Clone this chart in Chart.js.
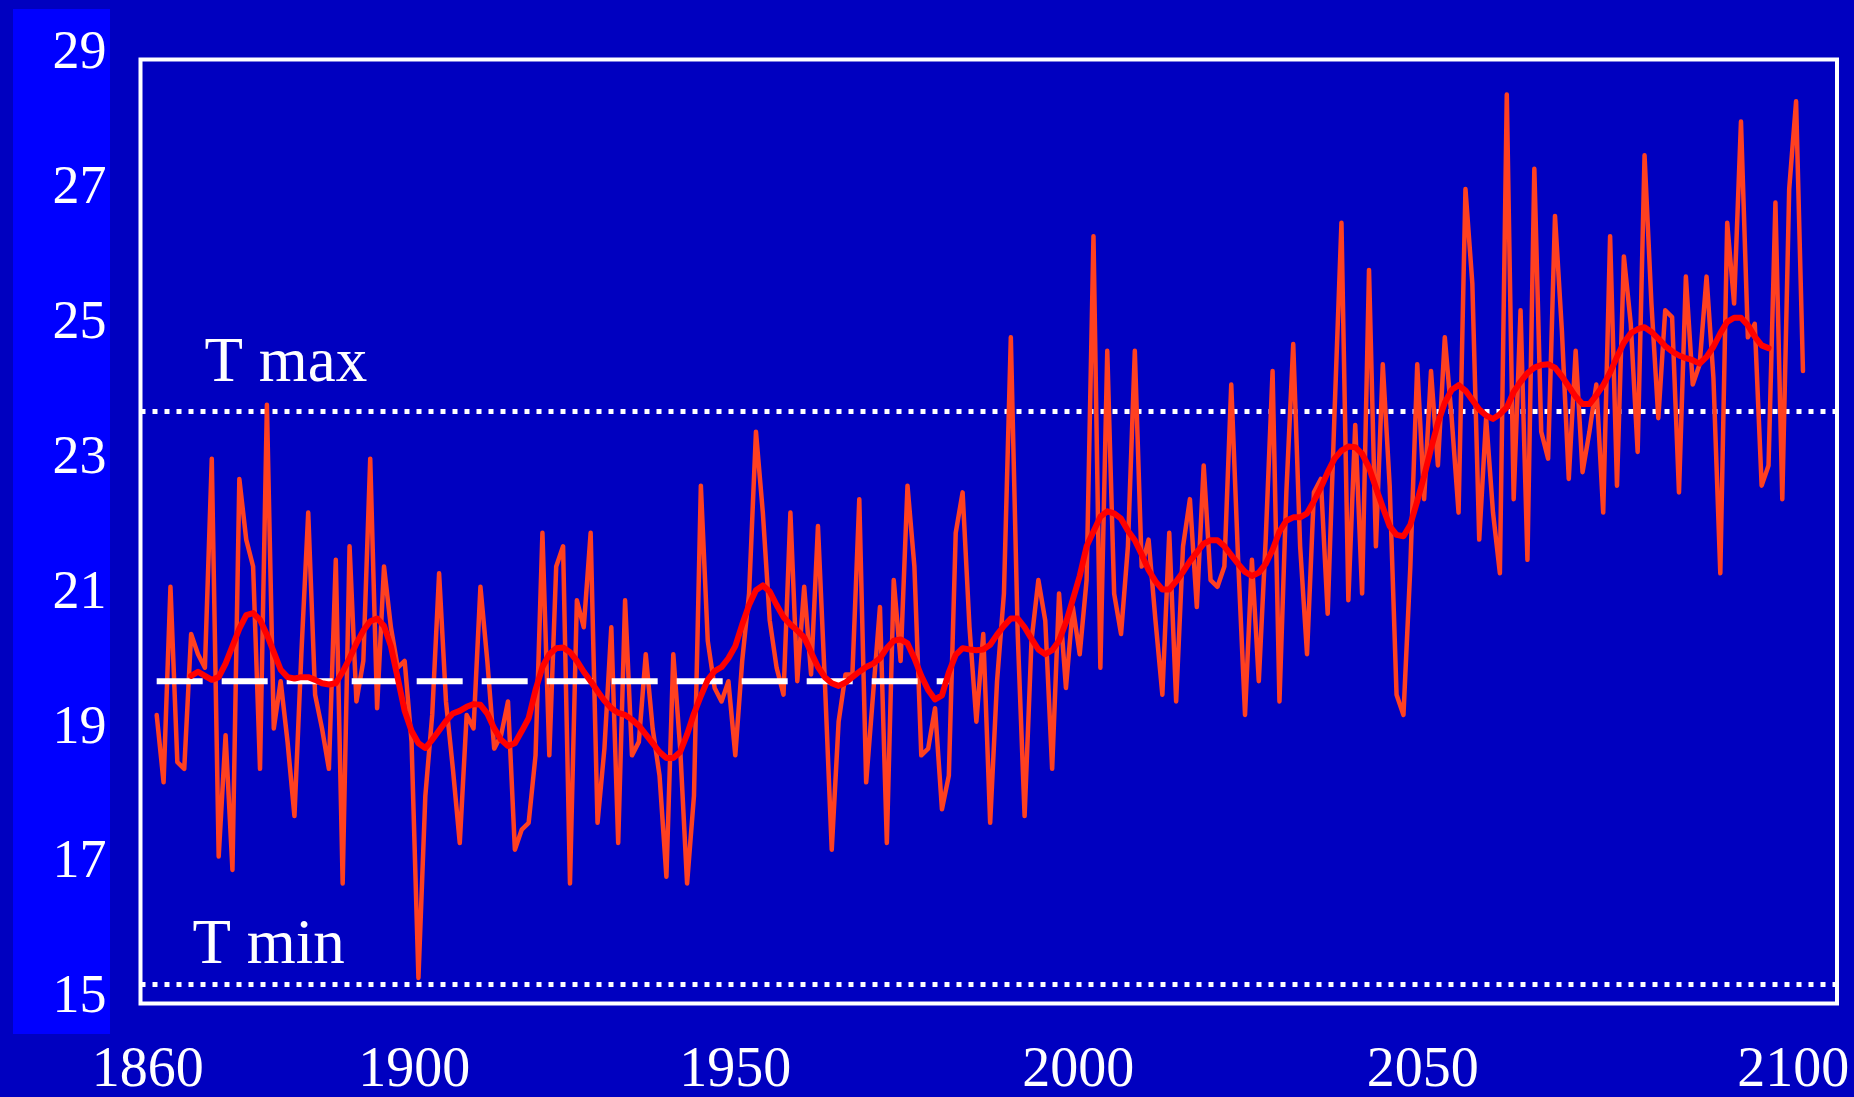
<!DOCTYPE html>
<html>
<head>
<meta charset="utf-8">
<title>Temperature 1861-2100</title>
<script src="https://cdn.jsdelivr.net/npm/chart.js@4.4.1/dist/chart.umd.min.js"></script>
<style>
  html, body { margin: 0; padding: 0; background: #0000c0; }
  #wrap { width: 1854px; height: 1097px; }
</style>
</head>
<body>
<div id="wrap"><canvas id="chart" width="1854" height="1097"></canvas></div>
<script>
// yearly values, one per year starting at firstYear
const firstYear = 1861;
const annual = [
  19.2, 18.2, 21.1, 18.5, 18.4, 20.4, 20.1, 19.9, 23.0, 17.1,
  18.9, 16.9, 22.7, 21.8, 21.4, 18.4, 23.8, 19.0, 19.7, 18.8,
  17.7, 20.1, 22.2, 19.5, 19.0, 18.4, 21.5, 16.7, 21.7, 19.4,
  20.0, 23.0, 19.3, 21.4, 20.5, 19.9, 20.0, 18.8, 15.3, 18.0,
  19.2, 21.3, 19.4, 18.4, 17.3, 19.2, 19.0, 21.1, 20.0, 18.7,
  18.9, 19.4, 17.2, 17.5, 17.6, 18.6, 21.9, 18.6, 21.4, 21.7,
  16.7, 20.9, 20.5, 21.9, 17.6, 18.7, 20.5, 17.3, 20.9, 18.6,
  18.8, 20.1, 19.0, 18.3, 16.8, 20.1, 18.7, 16.7, 18.0, 22.6,
  20.3, 19.6, 19.4, 19.7, 18.6, 20.0, 21.0, 23.4, 22.2, 20.6,
  19.9, 19.5, 22.2, 19.7, 21.1, 19.8, 22.0, 19.7, 17.2, 19.1,
  19.8, 19.8, 22.4, 18.2, 19.5, 20.8, 17.3, 21.2, 20.0, 22.6,
  21.4, 18.6, 18.7, 19.3, 17.8, 18.3, 21.9, 22.5, 20.5, 19.1,
  20.4, 17.6, 19.7, 21.0, 24.8, 20.4, 17.7, 20.3, 21.2, 20.6,
  18.4, 21.0, 19.6, 20.8, 20.1, 21.2, 26.3, 19.9, 24.6, 21.0,
  20.4, 21.7, 24.6, 21.4, 21.8, 20.6, 19.5, 21.9, 19.4, 21.7,
  22.4, 20.8, 22.9, 21.2, 21.1, 21.4, 24.1, 21.5, 19.2, 21.5,
  19.7, 21.8, 24.3, 19.4, 22.5, 24.7, 21.7, 20.1, 22.5, 22.7,
  20.7, 23.7, 26.5, 20.9, 23.5, 21.0, 25.8, 21.7, 24.4, 22.6,
  19.5, 19.2, 21.4, 24.4, 22.4, 24.3, 22.9, 24.8, 23.6, 22.2,
  27.0, 25.6, 21.8, 23.6, 22.2, 21.3, 28.4, 22.4, 25.2, 21.5,
  27.3, 23.4, 23.0, 26.6, 24.9, 22.7, 24.6, 22.8, 23.4, 24.1,
  22.2, 26.3, 22.6, 26.0, 25.0, 23.1, 27.5, 25.3, 23.6, 25.2,
  25.1, 22.5, 25.7, 24.1, 24.4, 25.7, 24.2, 21.3, 26.5, 25.3,
  28.0, 24.8, 25.0, 22.6, 22.9, 26.8, 22.4, 27.0, 28.3, 24.3
];

// smoothed curve, one per year starting at smoothStart
const smoothStart = 1866;
const smoothed = [
  19.78, 19.84, 19.78, 19.72, 19.76, 19.96, 20.22, 20.48, 20.68, 20.71,
  20.61, 20.39, 20.13, 19.87, 19.76, 19.74, 19.76, 19.76, 19.72, 19.67,
  19.65, 19.67, 19.84, 20.04, 20.26, 20.45, 20.59, 20.63, 20.52, 20.22,
  19.74, 19.26, 18.96, 18.78, 18.71, 18.83, 18.97, 19.11, 19.22, 19.26,
  19.32, 19.36, 19.35, 19.22, 19.00, 18.83, 18.74, 18.78, 18.96, 19.15,
  19.57, 19.91, 20.10, 20.19, 20.20, 20.13, 20.00, 19.84, 19.70, 19.55,
  19.41, 19.30, 19.23, 19.20, 19.13, 19.04, 18.91, 18.78, 18.65, 18.56,
  18.56, 18.65, 18.91, 19.22, 19.48, 19.72, 19.85, 19.91, 20.04, 20.22,
  20.54, 20.83, 21.05, 21.12, 21.03, 20.83, 20.65, 20.54, 20.45, 20.35,
  20.13, 19.91, 19.76, 19.67, 19.63, 19.68, 19.76, 19.84, 19.91, 19.96,
  20.04, 20.19, 20.30, 20.32, 20.26, 20.04, 19.78, 19.57, 19.43, 19.49,
  19.83, 20.09, 20.19, 20.17, 20.16, 20.17, 20.24, 20.39, 20.52, 20.63,
  20.63, 20.50, 20.33, 20.17, 20.10, 20.16, 20.30, 20.57, 20.91, 21.26,
  21.70, 21.92, 22.14, 22.22, 22.19, 22.11, 21.93, 21.79, 21.58, 21.35,
  21.18, 21.06, 21.06, 21.18, 21.32, 21.48, 21.61, 21.74, 21.79, 21.79,
  21.70, 21.57, 21.44, 21.32, 21.26, 21.31, 21.44, 21.65, 21.92, 22.08,
  22.13, 22.13, 22.19, 22.37, 22.57, 22.80, 23.00, 23.12, 23.18, 23.17,
  23.07, 22.87, 22.57, 22.28, 22.00, 21.87, 21.85, 22.02, 22.37, 22.74,
  23.15, 23.53, 23.83, 24.02, 24.09, 24.01, 23.87, 23.73, 23.64, 23.59,
  23.66, 23.76, 23.99, 24.14, 24.27, 24.35, 24.39, 24.40, 24.35, 24.22,
  24.07, 23.92, 23.81, 23.81, 23.94, 24.09, 24.28, 24.51, 24.72, 24.86,
  24.92, 24.95, 24.88, 24.78, 24.67, 24.59, 24.53, 24.49, 24.46, 24.41,
  24.51, 24.66, 24.86, 25.03, 25.09, 25.09, 24.98, 24.81, 24.68, 24.64
];

// mean of the reference period, drawn as the white dashed line
const baselineYears = [1861, 1976];
const baselineTemp = 19.7;

const tMax = 23.7;
const tMin = 15.2;

const yTicks = [15, 17, 19, 21, 23, 25, 27, 29];
const xTickLabels = ['1860', '1900', '1950', '2000', '2050', '2100'];

const xMin = 1858.65, xMax = 2104.94;
const serif = '"Liberation Serif", "Times New Roman", serif';

const annualPts = annual.map((v, i) => ({ x: firstYear + i, y: v }));
const smoothPts = smoothed.map((v, i) => ({ x: smoothStart + i, y: v }));
const basePts = baselineYears.map(yr => ({ x: yr, y: baselineTemp }));
const line = v => [{ x: xMin, y: v }, { x: xMax, y: v }];

const decor = {
  id: 'decor',
  beforeDraw(chart) {
    const { ctx, width, height } = chart;
    ctx.save();
    ctx.fillStyle = '#0000c0';
    ctx.fillRect(0, 0, width, height);
    ctx.fillStyle = '#0000ff'; // strip behind the y labels
    ctx.fillRect(13, 9, 97, 1025);
    ctx.restore();
  },
  afterDatasetsDraw(chart) {
    const { ctx, chartArea: a, scales: { y } } = chart;
    ctx.save();
    ctx.fillStyle = '#ffffff';
    ctx.font = '63px ' + serif;
    ctx.textBaseline = 'alphabetic';
    ctx.fillText('T max', a.left + 64, y.getPixelForValue(tMax) - 30);
    ctx.fillText('T min', a.left + 52, y.getPixelForValue(tMin) - 22);
    ctx.strokeStyle = '#ffffff';
    ctx.lineWidth = 4;
    ctx.strokeRect(a.left, a.top, a.right - a.left, a.bottom - a.top);
    ctx.restore();
  }
};

new Chart(document.getElementById('chart'), {
  type: 'line',
  data: {
    datasets: [
      {
        label: 'Smoothed',
        data: smoothPts,
        borderColor: '#ff0000',
        borderWidth: 6,
        pointRadius: 0,
        borderJoinStyle: 'round',
        borderCapStyle: 'round'
      },
      {
        label: 'Reference mean',
        data: basePts,
        borderColor: '#ffffff',
        borderWidth: 6,
        borderDash: [46, 19],
        pointRadius: 0
      },
      {
        label: 'Annual',
        data: annualPts,
        borderColor: '#ff4020',
        borderWidth: 4.5,
        pointRadius: 0,
        borderJoinStyle: 'round',
        borderCapStyle: 'round'
      },
      {
        label: 'T max',
        data: line(tMax),
        borderColor: '#ffffff',
        borderWidth: 5,
        borderDash: [5, 7],
        pointRadius: 0
      },
      {
        label: 'T min',
        data: line(tMin),
        borderColor: '#ffffff',
        borderWidth: 5,
        borderDash: [5, 7],
        pointRadius: 0
      }
    ]
  },
  options: {
    responsive: false,
    animation: false,
    layout: { padding: { top: 59.5, right: 17, left: 0, bottom: 0 } },
    plugins: {
      legend: { display: false },
      tooltip: { enabled: false }
    },
    scales: {
      x: {
        type: 'linear',
        min: xMin,
        max: xMax,
        grid: { display: false, drawTicks: false },
        border: { display: false },
        // the original's year labels sit a little off the yearly grid
        afterBuildTicks: s => {
          s.ticks = [1859.7, 1898.4, 1945.0, 1994.8, 2044.8, 2098.6].map(v => ({ value: v }));
        },
        afterFit: s => {
          s.height = 93.5;
          s.paddingLeft = 0;
          s.paddingRight = 0;
        },
        ticks: {
          autoSkip: false,
          maxRotation: 0,
          padding: 34,
          color: '#ffffff',
          font: { family: serif, size: 56 },
          callback: (v, i) => xTickLabels[i]
        }
      },
      y: {
        type: 'linear',
        min: 14.92,
        max: 28.92,
        grid: { display: false, drawTicks: false },
        border: { display: false },
        afterBuildTicks: s => { s.ticks = yTicks.map(v => ({ value: v })); },
        afterFit: s => {
          s.width = 140.5;
          s.paddingTop = 0;
          s.paddingBottom = 0;
        },
        ticks: {
          padding: 34,
          color: '#ffffff',
          font: { family: serif, size: 54 },
          callback: v => String(v)
        }
      }
    }
  },
  plugins: [decor]
});
</script>
</body>
</html>
